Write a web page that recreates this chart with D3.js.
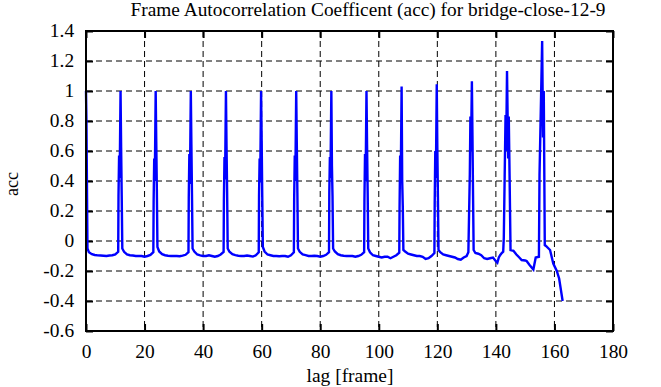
<!DOCTYPE html>
<html><head><meta charset="utf-8">
<script src="https://cdn.jsdelivr.net/npm/d3@7"></script>
<style>
html,body{margin:0;padding:0;background:#fff;}
text{font-family:"Liberation Serif","DejaVu Serif",serif;font-size:18px;fill:#000;}
</style></head>
<body><svg id="c" width="661" height="387"></svg>
<script>
const title = "Frame Autocorrelation Coefficent (acc) for bridge-close-12-9";
const xLabel = "lag [frame]";
const yLabel = "acc";
const xTicks = [0,20,40,60,80,100,120,140,160,180];
const yTicks = [-0.6,-0.4,-0.2,0,0.2,0.4,0.6,0.8,1,1.2,1.4];
const yTickLabels = ["-0.6","-0.4","-0.2","0","0.2","0.4","0.6","0.8","1","1.2","1.4"];

const lag = [
 0,0.15,0.5,
 1,2,3,4,5,6,7,8,9,10,11,
 11.1,11.3,11.5,11.8,12,12.2,12.4,
 13,14,15,16,17,18,19,20,21,22,23,
 23.1,23.3,23.5,23.8,24,24.2,24.4,
 25,26,27,28,29,30,31,32,33,34,35,
 35.1,35.3,35.5,35.8,36,36.2,36.4,
 37,38,39,40,41,42,43,44,45,46,47,
 47.1,47.3,47.5,47.8,48,48.2,48.4,
 49,50,51,52,53,54,55,56,57,58,59,
 59.1,59.3,59.5,59.8,60,60.2,60.4,
 61,62,63,64,65,66,67,68,69,70,71,
 71.1,71.3,71.5,71.8,72,72.2,72.4,
 73,74,75,76,77,78,79,80,81,82,83,
 83.1,83.3,83.5,83.8,84,84.2,84.4,
 85,86,87,88,89,90,91,92,93,94,95,
 95.1,95.3,95.5,95.8,96,96.2,96.4,
 97,98,99,100,101,102,103,104,105,106,107,
 107.1,107.3,107.5,107.8,108,108.2,108.4,
 109,110,111,112,113,114,115,116,117,118,119,
 119.1,119.3,119.5,119.8,120,120.2,120.4,
 121,122,123,124,125,126,127,128,129,130,130.6,
 131.1,131.3,131.5,131.8,132,132.2,132.4,
 133,134,135,136,137,138,139,140,140.5,141,141.5,142,142.5,
 142.7,143.0,143.3,143.5,143.8,144.2,144.4,144.7,145,
 146,147,148,148.8,150,150.5,151.5,152.8,153.6,154.7,
 154.9,155.4,155.8,156.1,156.35,156.7,
 157.1,158.5,159.6,160.8,161.6,162.8
];
const acc = [
 1.0,0.8,-0.05,
 -0.075,-0.088,-0.093,-0.096,-0.097,-0.098,-0.1,-0.097,-0.095,-0.09,-0.072,
 0.3,0.57,0.42,1.0,0.62,0.3,-0.05,
 -0.072,-0.09,-0.095,-0.097,-0.1,-0.1,-0.1,-0.105,-0.1,-0.093,-0.075,
 0.26,0.55,0.4,1.0,0.66,0.34,-0.04,
 -0.07,-0.088,-0.095,-0.098,-0.1,-0.1,-0.1,-0.102,-0.098,-0.092,-0.075,
 0.29,0.58,0.38,1.0,0.64,0.31,-0.05,
 -0.07,-0.09,-0.096,-0.1,-0.1,-0.095,-0.1,-0.105,-0.1,-0.09,-0.073,
 0.27,0.56,0.41,1.0,0.63,0.33,-0.05,
 -0.072,-0.088,-0.094,-0.098,-0.1,-0.1,-0.097,-0.1,-0.104,-0.095,-0.075,
 0.3,0.55,0.39,1.0,0.67,0.3,-0.04,
 -0.07,-0.09,-0.095,-0.1,-0.1,-0.102,-0.1,-0.1,-0.105,-0.095,-0.075,
 0.28,0.57,0.4,1.0,0.65,0.32,-0.05,
 -0.072,-0.09,-0.094,-0.1,-0.1,-0.098,-0.1,-0.105,-0.1,-0.092,-0.075,
 0.32,0.56,0.42,1.0,0.5,0.3,-0.05,
 -0.07,-0.088,-0.095,-0.098,-0.1,-0.1,-0.1,-0.105,-0.1,-0.092,-0.075,
 0.27,0.58,0.4,1.0,0.64,0.33,-0.05,
 -0.075,-0.095,-0.1,-0.105,-0.11,-0.105,-0.105,-0.115,-0.105,-0.095,-0.078,
 0.22,0.57,0.39,1.03,0.4,0.23,-0.06,
 -0.07,-0.085,-0.09,-0.095,-0.1,-0.1,-0.105,-0.12,-0.115,-0.1,-0.08,
 0.25,0.6,0.42,1.045,0.62,0.3,-0.06,
 -0.075,-0.09,-0.095,-0.1,-0.105,-0.11,-0.12,-0.125,-0.11,-0.1,-0.075,
 0.45,0.83,0.6,1.065,0.7,0.3,-0.06,
 -0.08,-0.085,-0.095,-0.115,-0.12,-0.115,-0.11,-0.135,-0.145,-0.11,-0.093,-0.08,-0.071,
 0.02,0.43,0.84,0.6,1.133,0.55,0.83,0.4,-0.06,
 -0.065,-0.09,-0.11,-0.127,-0.13,-0.133,-0.16,-0.19,-0.11,-0.105,
 0.44,0.93,1.333,0.69,1.0,-0.027,
 -0.033,-0.06,-0.15,-0.2,-0.25,-0.4
];

const svg = d3.select("#c");
const L = 86, R = 613, T = 31, B = 331;
const x = d3.scaleLinear().domain([0,180]).range([L,R]);
const y = d3.scaleLinear().domain([-0.6,1.4]).range([B,T]);

// grid
const g = svg.append("g");
g.selectAll(".vg").data(xTicks.slice(1,-1)).join("line")
 .attr("x1",d=>x(d)).attr("x2",d=>x(d)).attr("y1",T).attr("y2",B)
 .attr("stroke","#000").attr("stroke-width",1).attr("stroke-dasharray","6,4");
g.selectAll(".hg").data(yTicks.slice(1,-1)).join("line")
 .attr("y1",d=>y(d)).attr("y2",d=>y(d)).attr("x1",L).attr("x2",R)
 .attr("stroke","#000").attr("stroke-width",1).attr("stroke-dasharray","6,4");

// axes with inward ticks
const tl = 7;
const ax = svg.append("g");
ax.append("g").attr("transform",`translate(0,${B})`)
 .call(d3.axisBottom(x).tickValues(xTicks).tickSize(-tl).tickPadding(14).tickFormat(d3.format("d")));
ax.append("g").attr("transform",`translate(0,${T})`)
 .call(d3.axisTop(x).tickValues(xTicks).tickSize(-tl).tickFormat(""));
ax.append("g").attr("transform",`translate(${L},0)`)
 .call(d3.axisLeft(y).tickValues(yTicks).tickSize(-tl).tickPadding(11).tickFormat((d,i)=>yTickLabels[i]));
ax.append("g").attr("transform",`translate(${R},0)`)
 .call(d3.axisRight(y).tickValues(yTicks).tickSize(-tl).tickFormat(""));
ax.selectAll(".domain").remove();
ax.selectAll(".tick line").attr("stroke","#000").attr("stroke-width",2);
ax.selectAll("text").attr("font-family",'"Liberation Serif",serif').attr("font-size",18).attr("fill","#000")
 .attr("transform","scale(1.08,1)");

// line
const pts = lag.map((l,i)=>[l,acc[i]]);
svg.append("path").datum(pts)
 .attr("d", d3.line().x(d=>x(d[0])).y(d=>y(d[1])))
 .attr("fill","none").attr("stroke","#0000ff").attr("stroke-width",2.4).attr("stroke-linejoin","miter");

// frame
svg.append("rect").attr("x",L).attr("y",T).attr("width",R-L).attr("height",B-T)
 .attr("fill","none").attr("stroke","#000").attr("stroke-width",2);

// titles
svg.append("text").attr("x",368).attr("y",16).attr("text-anchor","middle")
 .attr("textLength",475).attr("lengthAdjust","spacingAndGlyphs").text(title);
svg.append("text").attr("x",350).attr("y",382).attr("text-anchor","middle")
 .attr("textLength",87).attr("lengthAdjust","spacingAndGlyphs").text(xLabel);
svg.append("text").attr("transform","translate(18,184) rotate(-90)").attr("text-anchor","middle").text(yLabel);
</script></body></html>
